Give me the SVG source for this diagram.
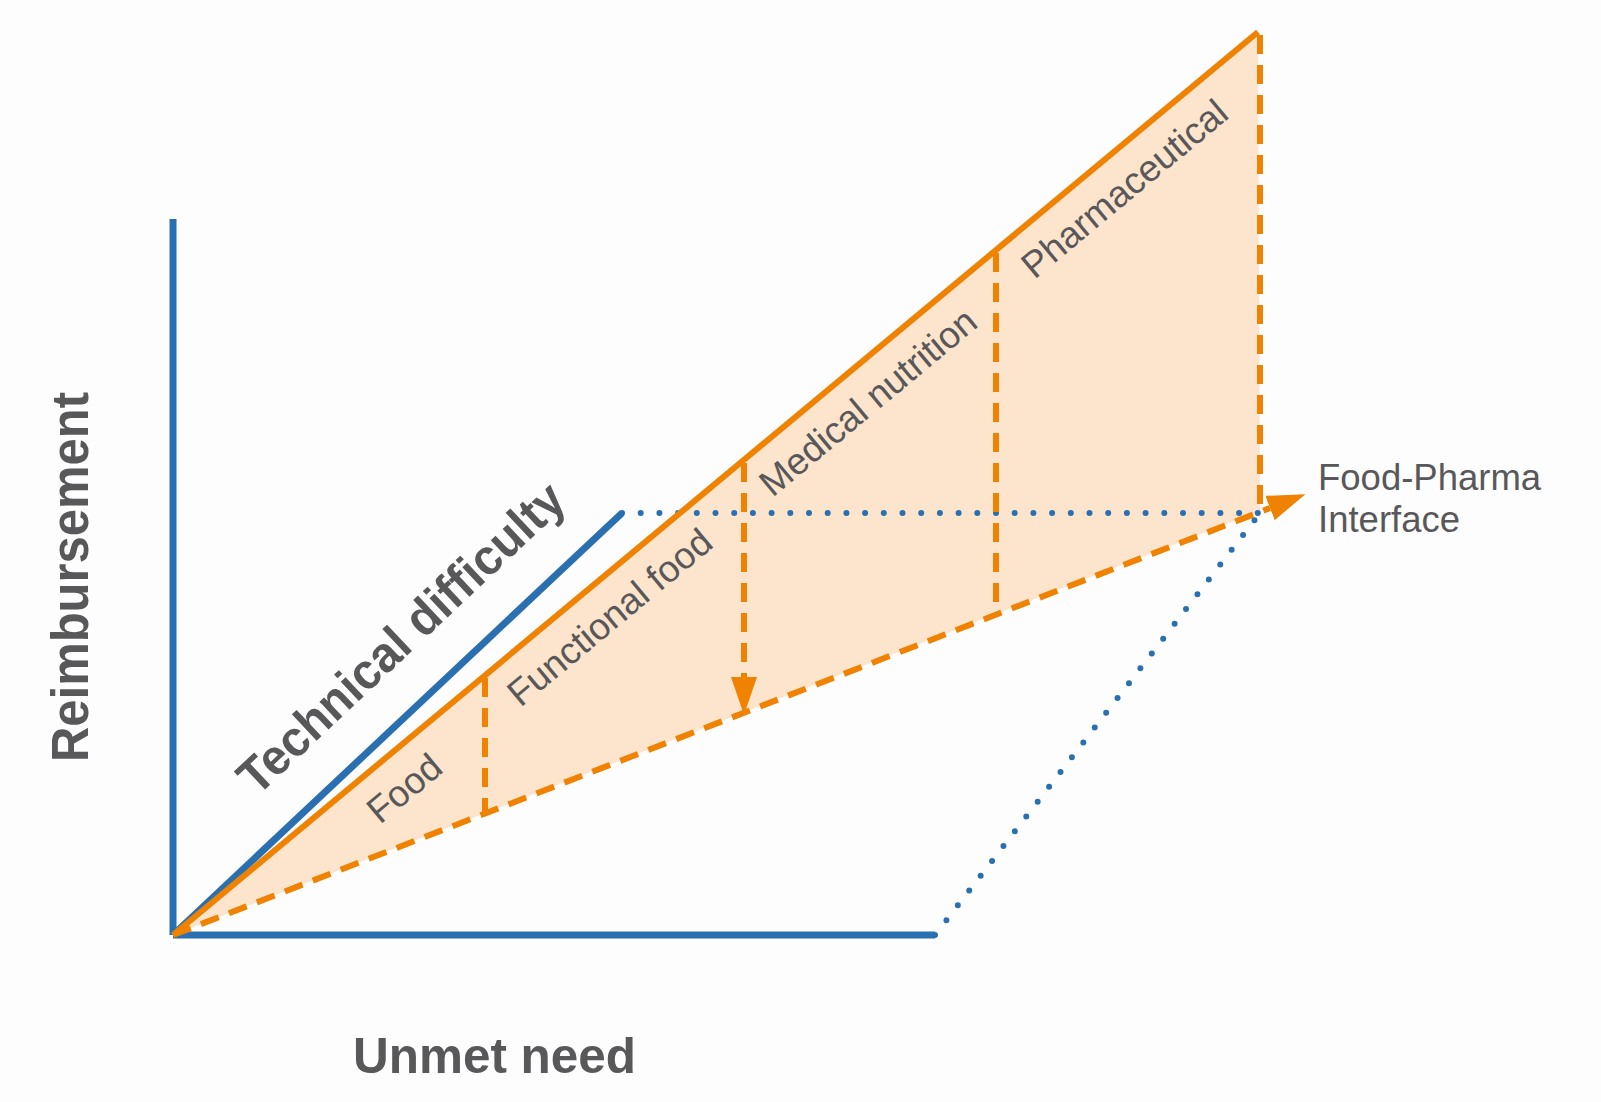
<svg xmlns="http://www.w3.org/2000/svg" width="1601" height="1102" viewBox="0 0 1601 1102">
<defs>
<style>
.axis{stroke:#2a6fb0;stroke-width:7;fill:none}
.dot{stroke:#2a6fb0;stroke-width:6;fill:none;stroke-linecap:round;stroke-dasharray:0 18.7}
.solid{stroke:#ef8200;stroke-width:6;fill:none}
.dash{stroke:#ef8200;stroke-width:6;fill:none;stroke-dasharray:19 11}
.bold{font-family:"Liberation Sans",Arial,sans-serif;font-weight:bold;fill:#58585a}
.lab{font-family:"Liberation Sans",Arial,sans-serif;font-size:37px;fill:#58585a}
.side{font-family:"Liberation Sans",Arial,sans-serif;font-size:36.5px;fill:#58585a}
</style>
<marker id="ah" markerUnits="userSpaceOnUse" markerWidth="38" markerHeight="26" refX="0" refY="13" orient="auto" viewBox="0 0 38 26">
<path d="M0,0 L38,13 L0,26 z" fill="#ef8200"/>
</marker>
</defs>
<rect width="1601" height="1102" fill="#fdfdfd"/>
<g id="region">
<polygon points="173,935 1258,32 1260,511" fill="#fde4cc"/>
</g>
<g id="connectors">
<line class="dot" x1="622" y1="513" x2="1260" y2="513"/>
<line class="dot" x1="935" y1="935" x2="1260" y2="513"/>
<line class="axis" x1="173" y1="219" x2="173" y2="935"/>
<line class="axis" x1="173" y1="935" x2="935" y2="935"/>
<line class="axis" x1="173" y1="935" x2="622" y2="513"/>
<line class="solid" x1="173" y1="935" x2="1258" y2="32"/>
<line class="dash" x1="173" y1="935" x2="1270" y2="508" marker-end="url(#ah)"/>
<line class="dash" x1="485" y1="678" x2="485" y2="815"/>
<line class="dash" x1="744" y1="463" x2="744" y2="677" marker-end="url(#ah)"/>
<line class="dash" x1="996" y1="253" x2="996" y2="614"/>
<line class="dash" x1="1260" y1="35" x2="1260" y2="510"/>
</g>
<g id="axis-labels">
<text class="bold" font-size="51" transform="translate(88,577) rotate(-90)" text-anchor="middle" textLength="370" lengthAdjust="spacingAndGlyphs">Reimbursement</text>
<text class="bold" font-size="50" x="353" y="1073" textLength="283" lengthAdjust="spacingAndGlyphs">Unmet need</text>
<text class="bold" font-size="50" transform="translate(257,797) rotate(-43.3)" textLength="428" lengthAdjust="spacingAndGlyphs">Technical difficulty</text>
</g>
<g id="food"><text class="lab" transform="translate(380,825) rotate(-39.77)">Food</text></g>
<g id="functional-food"><text class="lab" transform="translate(520.5,708) rotate(-39.77)">Functional food</text></g>
<g id="medical-nutrition"><text class="lab" transform="translate(772.5,498) rotate(-39.77)">Medical nutrition</text></g>
<g id="pharmaceutical"><text class="lab" transform="translate(1034.5,280) rotate(-39.77)">Pharmaceutical</text></g>
<g id="interface-label">
<text class="side" x="1318" y="490">Food-Pharma</text>
<text class="side" x="1318" y="532">Interface</text>
</g>
</svg>
